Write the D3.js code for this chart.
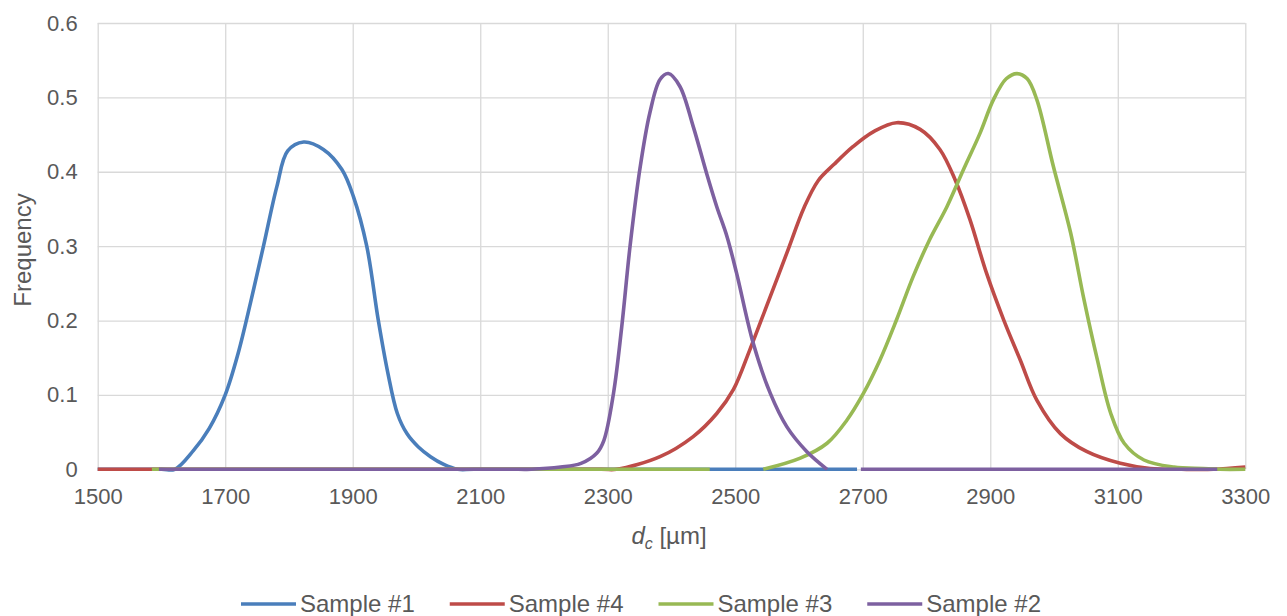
<!DOCTYPE html>
<html><head><meta charset="utf-8">
<script src="https://cdn.jsdelivr.net/npm/d3@7"></script>
<style>
html,body{margin:0;padding:0;background:#fff;}
svg text{font-family:"Liberation Sans",Arial,sans-serif;fill:#595959;}
</style></head>
<body><svg id="c" width="1287" height="616"></svg>
<script>
const xTicks = [1500,1700,1900,2100,2300,2500,2700,2900,3100,3300];
const yTicks = [0,0.1,0.2,0.3,0.4,0.5,0.6];
const seriesNames = ["Sample #1","Sample #4","Sample #3","Sample #2"];
const seriesColors = ["#4a7ebb","#be4b48","#98b954","#7d60a0"];

const sample1 = [[1500,0],[1600,0],[1621,0],[1650,0.025],[1675,0.055],[1700,0.1],[1720,0.155],[1740,0.225],[1760,0.30],[1781,0.38],[1798,0.428],[1823,0.44],[1854,0.43],[1883,0.403],[1901,0.367],[1922,0.30],[1940,0.201],[1955,0.13],[1970,0.075],[1985,0.048],[2003,0.03],[2022,0.017],[2042,0.007],[2065,0],[2090,0],[2691,0]];
const sample4 = [[1500,0],[2290,0],[2314,0],[2382,0.017],[2434,0.044],[2471,0.075],[2497,0.107],[2523,0.161],[2549,0.219],[2581,0.291],[2608,0.352],[2630,0.388],[2655,0.41],[2685,0.434],[2717,0.454],[2753,0.466],[2790,0.457],[2821,0.43],[2845,0.389],[2868,0.336],[2894,0.264],[2921,0.201],[2947,0.147],[2973,0.093],[3010,0.048],[3051,0.024],[3104,0.008],[3151,0.001],[3200,0],[3250,0],[3300,0.003]];
const sample3 = [[1585,0],[2440,0],[2460,0],[2500,null],[2544,0],[2602,0.015],[2644,0.035],[2675,0.066],[2701,0.102],[2727,0.147],[2753,0.201],[2779,0.259],[2805,0.309],[2832,0.353],[2858,0.403],[2884,0.452],[2905,0.497],[2925,0.525],[2942,0.532],[2958,0.525],[2973,0.497],[2999,0.407],[3026,0.318],[3047,0.228],[3068,0.147],[3089,0.075],[3110,0.035],[3141,0.0125],[3188,0.003],[3234,0.001],[3260,0],[3300,0]];
const sample2 = [[1596,0],[2160,0],[2180,0],[2226,0.003],[2258,0.008],[2283,0.022],[2294,0.039],[2309,0.102],[2322,0.192],[2335,0.30],[2351,0.407],[2366,0.479],[2382,0.524],[2395,0.532],[2413,0.515],[2434,0.461],[2455,0.398],[2471,0.353],[2487,0.313],[2502,0.264],[2528,0.170],[2555,0.102],[2581,0.057],[2612,0.024],[2644,0],[2670,null],[2697,0],[2720,0],[3256,0]];
const seriesData = [sample1, sample4, sample3, sample2];

const svg = d3.select("#c");
const L = 97.7, R = 1245.3, T = 23, B = 469.3;
const x = d3.scaleLinear().domain([1500,3300]).range([L,R]);
const y = d3.scaleLinear().domain([0,0.6]).range([B,T]);

// gridlines
const gx = svg.append("g").attr("transform",`translate(0,${B})`)
  .call(d3.axisBottom(x).tickValues(xTicks).tickSize(-(B-T)).tickFormat(d=>d).tickPadding(14));
gx.select(".domain").remove();
gx.selectAll("line").attr("stroke","#d9d9d9").attr("stroke-width",1.3);
gx.selectAll("text").attr("font-size","22px").attr("fill","#595959").attr("dy","0.95em");

const gy = svg.append("g").attr("transform",`translate(${L},0)`)
  .call(d3.axisLeft(y).tickValues(yTicks).tickSize(-(R-L)).tickFormat(d=>d===0?"0":d3.format(".1f")(d)).tickPadding(20));
gy.select(".domain").remove();
gy.selectAll("line").attr("stroke","#d9d9d9").attr("stroke-width",1.3);
gy.selectAll("text").attr("font-size","22px").attr("fill","#595959");

// lines
const line = d3.line().defined(d=>d[1]!==null).x(d=>x(d[0])).y(d=>y(d[1])).curve(d3.curveCatmullRom.alpha(0.5));
seriesData.forEach((s,i)=>{
  svg.append("path").datum(s).attr("d",line).attr("fill","none")
    .attr("stroke",seriesColors[i]).attr("stroke-width",3.6).attr("stroke-linejoin","round").attr("stroke-linecap","butt");
});

// axis titles
svg.append("text").attr("transform","translate(31,250) rotate(-90)").attr("text-anchor","middle")
  .attr("font-size","24px").text("Frequency");
const xt = svg.append("text").attr("x",669).attr("y",544).attr("text-anchor","middle").attr("font-size","24px");
xt.append("tspan").attr("font-style","italic").text("d");
xt.append("tspan").attr("font-size","16px").attr("font-style","italic").attr("dy","5").text("c");
xt.append("tspan").attr("dy","-5").text(" [µm]");

// legend
const lg = svg.append("g");
let cx = 0;
seriesNames.forEach((n,i)=>{
  const g = lg.append("g").attr("transform",`translate(${cx},0)`);
  g.append("line").attr("x1",0).attr("x2",55).attr("y1",0).attr("y2",0).attr("stroke",seriesColors[i]).attr("stroke-width",3.6);
  const t = g.append("text").attr("x",59).attr("y",8).attr("font-size","24px").text(n);
  const w = t.node().getComputedTextLength();
  cx += 59 + w + 35;
});
const total = cx - 35;
lg.attr("transform",`translate(${641 - total/2},604)`);
</script></body></html>
